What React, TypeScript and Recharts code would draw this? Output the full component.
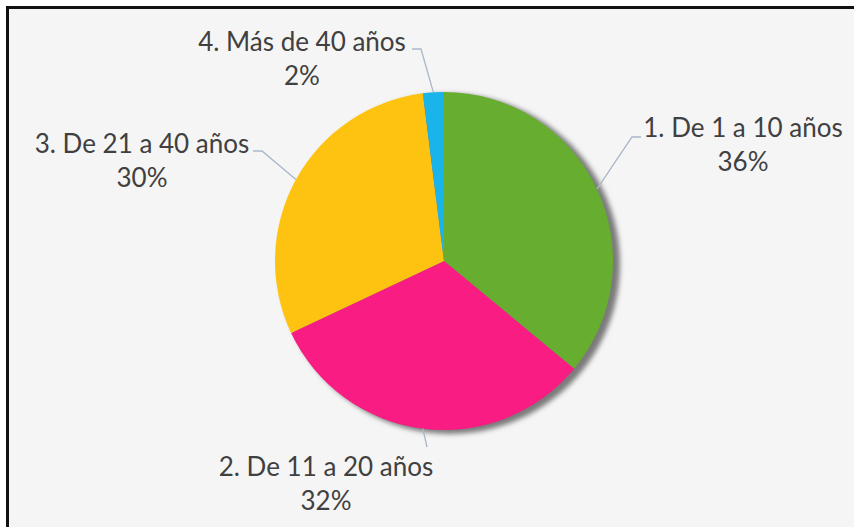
import { PieChart, Pie, Cell } from "recharts";

const categories = [
  "1. De 1 a 10 años",
  "2. De 11 a 20 años",
  "3. De 21 a 40 años",
  "4. Más de 40 años",
];
const shares = [36, 32, 30, 2];
const colors = ["#67ad2f", "#f91c83", "#fec211", "#18b4ea"];

const data = categories.map((name, i) => ({ name, value: shares[i] }));

const CX = 444;
const CY = 261;
const R = 169;
const RAD = Math.PI / 180;

// hand-placed label boxes, relative to the pie centre (text x, first baseline, leader elbow, leader end)
const LABELS = [
  { dx: 299, base: -124, elbow: [188, -124], end: [197, -124] },
  { dx: -118, base: 215, elbow: [-17, 186], end: [-17, 186] },
  { dx: -302, base: -108, elbow: [-182, -110], end: [-191, -110] },
  { dx: -142, base: -210, elbow: [-23, -212], end: [-32, -212] },
];

const renderLabel = (props: any) => {
  const { cx, cy, midAngle, outerRadius, index, name, percent } = props;
  const pos = LABELS[index];
  const sx = cx + outerRadius * Math.cos(-midAngle * RAD);
  const sy = cy + outerRadius * Math.sin(-midAngle * RAD);
  const ex = cx + pos.elbow[0];
  const ey = cy + pos.elbow[1];
  const fx = cx + pos.end[0];
  const fy = cy + pos.end[1];
  return (
    <g key={`lbl-${index}`}>
      <path
        d={`M${sx},${sy}L${ex},${ey}L${fx},${fy}`}
        stroke="#a9b6c9"
        strokeWidth={1.3}
        fill="none"
      />
      <text
        x={cx + pos.dx}
        y={cy + pos.base}
        textAnchor="middle"
        fill="#404040"
        fontSize={26}
        fontFamily="Lato, sans-serif"
      >
        <tspan x={cx + pos.dx}>{name}</tspan>
        <tspan x={cx + pos.dx} dy={34}>{`${Math.round(percent * 100)}%`}</tspan>
      </text>
    </g>
  );
};

export default function App() {
  return (
    <div
      style={{
        position: "absolute",
        left: 0,
        top: 0,
        width: 854,
        height: 527,
        background: "#ffffff",
        overflow: "hidden",
      }}
    >
      <div
        style={{
          position: "absolute",
          left: 6,
          top: 6,
          width: 900,
          height: 600,
          border: "3px solid #111",
          background: "#f5f5f5",
        }}
      />
      <div style={{ position: "absolute", left: 0, top: 0 }}>
        <PieChart width={854} height={527} margin={{ top: 0, right: 0, bottom: 0, left: 0 }}>
          <defs>
            <filter id="pieShadow" x="-20%" y="-20%" width="140%" height="140%">
              <feGaussianBlur stdDeviation="2.5" />
            </filter>
          </defs>
          <Pie
            data={[{ name: "shadow", value: 1 }]}
            dataKey="value"
            cx={CX + 6}
            cy={CY + 3}
            outerRadius={R + 1}
            fill="#7a7a7a"
            stroke="none"
            style={{ filter: "url(#pieShadow)" }}
            isAnimationActive={false}
            legendType="none"
          />
          <Pie
            data={data}
            dataKey="value"
            nameKey="name"
            cx={CX}
            cy={CY}
            outerRadius={R}
            startAngle={90}
            endAngle={-270}
            stroke="none"
            label={renderLabel}
            labelLine={false}
            isAnimationActive={false}
          >
            {data.map((d, i) => (
              <Cell key={d.name} fill={colors[i]} />
            ))}
          </Pie>
        </PieChart>
      </div>
    </div>
  );
}
